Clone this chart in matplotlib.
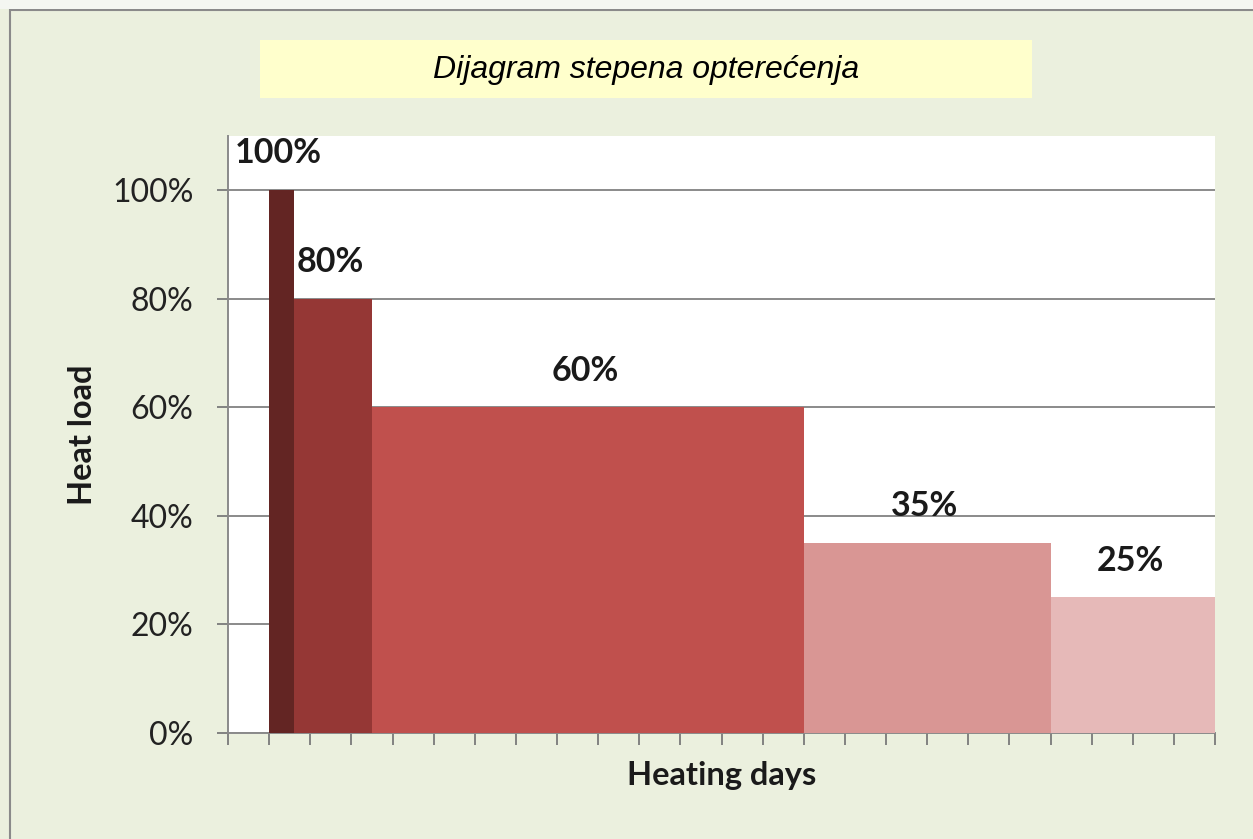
import matplotlib
matplotlib.use("Agg")
import matplotlib.pyplot as plt
from matplotlib.patches import Rectangle

# heating-day intervals (left edge of each block) and heat load in %
day_edges = [1, 1.6, 3.5, 14, 20, 24]
heat_load = [100, 80, 60, 35, 25]
load_labels = ["100%", "80%", "60%", "35%", "25%"]
bar_colours = ["#632523", "#953735", "#c0504d", "#d99694", "#e6b9b8"]
y_ticks = [0, 20, 40, 60, 80, 100]
y_tick_labels = ["0%", "20%", "40%", "60%", "80%", "100%"]
n_days = 24

W, H = 1253, 839
fig = plt.figure(figsize=(W / 100, H / 100), dpi=100)
fig.patch.set_facecolor("#ebf0de")

# outer frame (cropped screenshot)
fig.patches.append(Rectangle((10 / W, -0.1), 1.2, 1 - 10 / H + 0.1, transform=fig.transFigure,
                             facecolor="none", edgecolor="#8a8a8a", linewidth=1.5))
fig.patches.append(Rectangle((0, 1 - 9 / H), 1, 9 / H, transform=fig.transFigure,
                             facecolor="#f4f6f1", edgecolor="none"))

# title box
fig.patches.append(Rectangle((260 / W, 1 - 98 / H), (1032 - 260) / W, 58 / H, transform=fig.transFigure,
                             facecolor="#ffffcc", edgecolor="none"))
fig.text(646 / W, 1 - 70 / H, "Dijagram stepena opterećenja", ha="center", va="center",
         fontsize=23, style="italic", family="Liberation Sans", color="#000000")

ax = fig.add_axes([228 / W, 1 - 733 / H, (1215 - 228) / W, (733 - 136) / H])
ax.set_facecolor("white")

lefts = day_edges[:-1]
widths = [day_edges[i + 1] - day_edges[i] for i in range(len(heat_load))]
ax.bar(lefts, heat_load, width=widths, align="edge", color=bar_colours, linewidth=0, zorder=3)

for x0, w, v, lab in zip(lefts, widths, heat_load, load_labels):
    ax.annotate(lab, (x0 + w / 2, v), xytext=(-2, 26.5), textcoords="offset points",
                ha="center", va="center", fontsize=24.5, fontweight="bold",
                family="Lato", color="#1a1a1a", zorder=4)

ax.set_xlim(0, n_days)
ax.set_ylim(0, 110)
ax.set_xticks(range(n_days + 1))
ax.set_xticklabels([])
ax.set_yticks(y_ticks)
ax.set_yticklabels(y_tick_labels, family="Lato", fontsize=23, color="#222222")
ax.yaxis.grid(True, color="#8a8a8a", linewidth=1.4, zorder=0)
ax.tick_params(axis="x", direction="out", length=8.5, width=1.3, color="#7a7a7a")
ax.tick_params(axis="y", direction="out", length=8, width=1.3, color="#7a7a7a", pad=17)

for s in ["top", "right"]:
    ax.spines[s].set_visible(False)
for s in ["left", "bottom"]:
    ax.spines[s].set_color("#8a8a8a")
    ax.spines[s].set_linewidth(1.4)

fig.text(82 / W, 1 - 435 / H, "Heat load", rotation=90, ha="center", va="center",
         fontsize=23.5, fontweight="bold", family="Lato", color="#1a1a1a")
fig.text(722 / W, 1 - 776 / H, "Heating days", ha="center", va="center",
         fontsize=23.5, fontweight="bold", family="Lato", color="#1a1a1a")

fig.savefig("out.png", dpi=100, facecolor=fig.get_facecolor())
